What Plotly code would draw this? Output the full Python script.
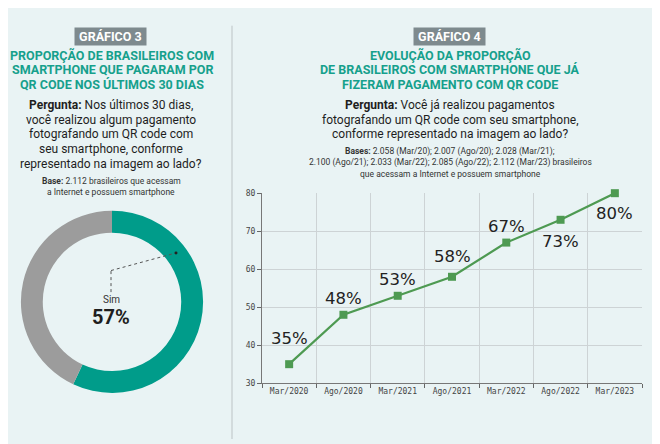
import plotly.graph_objects as go

# --- data ---
pie_labels = ['Sim', 'Não']
pie_values = [57, 43]

periods = ['Mar/2020', 'Ago/2020', 'Mar/2021', 'Ago/2021', 'Mar/2022', 'Ago/2022', 'Mar/2023']
share = [35, 48, 53, 58, 67, 73, 80]
y_ticks = [30, 40, 50, 60, 70, 80]

# label offset per point (px, positive = above)
label_shift = [26, 16, 16, 20, 16, -22, -20]

BG = '#E9F3F4'
TEAL = '#009C8A'
GRAY = '#9C9C9C'
TITLE_GREEN = '#16A08C'
LINE_GREEN = '#4E9A52'
# page body has an 8px margin, so the figure is a bit smaller than the window
OFF = 8
W, H = 660 - OFF, 444 - OFF


def px(x):
    return (x - OFF) / W


def py(y):
    return 1 - (y - OFF) / H


fig = go.Figure()

fig.add_trace(go.Pie(
    labels=pie_labels,
    values=pie_values,
    hole=0.76,
    sort=False,
    direction='clockwise',
    rotation=0,
    marker=dict(colors=[TEAL, GRAY], line=dict(width=0)),
    textinfo='none',
    showlegend=False,
    domain=dict(x=[px(19), px(205)], y=[py(397), py(211)]),
))

fig.add_trace(go.Scatter(
    x=periods,
    y=share,
    mode='lines+markers',
    line=dict(color=LINE_GREEN, width=2.2),
    marker=dict(symbol='square', size=8, color=LINE_GREEN),
    cliponaxis=False,
    showlegend=False,
    hoverinfo='skip',
))

annotations = []


def text(x, y, s, size, color='#1E1E1E', family='Roboto', **kw):
    annotations.append(dict(
        x=px(x), y=py(y), xref='paper', yref='paper', text=s, showarrow=False,
        xanchor='center', yanchor='middle',
        font=dict(size=size, color=color, family=family), **kw))


# left panel
text(110, 33, '<b>&nbsp;GRÁFICO 3&nbsp;</b>', 12.5, color='white', bgcolor='#7E8A8E', borderpad=1)
for y, s in zip([52, 67, 82], ['PROPORÇÃO DE BRASILEIROS COM',
                               'SMARTPHONE QUE PAGARAM POR',
                               'QR CODE NOS ÚLTIMOS 30 DIAS']):
    text(112, y, '<b>' + s + '</b>', 12.5, color=TITLE_GREEN)
for y, s in zip([103, 118, 133, 148, 163], ['<b>Pergunta:</b> Nos últimos 30 dias,',
                                            'você realizou algum pagamento',
                                            'fotografando um QR code com',
                                            'seu smartphone, conforme',
                                            'representado na imagem ao lado?']):
    text(111, y, s, 12)
text(111, 181, '<b>Base:</b> 2.112 brasileiros que acessam', 8.5, color='#333')
text(111, 192, 'a Internet e possuem smartphone', 8.5, color='#333')

text(111, 302, 'Sim', 10, color='#333')
text(111, 319, '<b>57%</b>', 20, color='#1E1E1E')

# right panel
text(449, 33, '<b>&nbsp;GRÁFICO 4&nbsp;</b>', 12.5, color='white', bgcolor='#7E8A8E', borderpad=1)
for y, s in zip([52, 67, 82], ['EVOLUÇÃO DA PROPORÇÃO',
                               'DE BRASILEIROS COM SMARTPHONE QUE JÁ',
                               'FIZERAM PAGAMENTO COM QR CODE']):
    text(450, y, '<b>' + s + '</b>', 12.5, color=TITLE_GREEN)
for y, s in zip([103, 118, 133], ['<b>Pergunta:</b> Você já realizou pagamentos',
                                  'fotografando um QR code com seu smartphone,',
                                  'conforme representado na imagem ao lado?']):
    text(450, y, s, 12)
for y, s in zip([150, 162, 173], ['<b>Bases:</b> 2.058 (Mar/20); 2.007 (Ago/20); 2.028 (Mar/21);',
                                  '2.100 (Ago/21); 2.033 (Mar/22); 2.085 (Ago/22); 2.112 (Mar/23) brasileiros',
                                  'que acessam a Internet e possuem smartphone']):
    text(450, y, s, 8.5, color='#333')

# point labels
for p, v, s in zip(periods, share, label_shift):
    annotations.append(dict(
        x=p, y=v, xref='x', yref='y', text=f'{v}%', showarrow=False,
        yshift=s, font=dict(size=16.5, color='#222', family='DejaVu Sans')))

shapes = [
    # panel separator
    dict(type='line', xref='paper', yref='paper', x0=px(232), x1=px(232), y0=py(22), y1=0,
         line=dict(color='#BCC3C5', width=1)),
    # dotted leader from centre label to ring
    dict(type='line', xref='paper', yref='paper', x0=px(111), x1=px(111), y0=py(294), y1=py(272),
         line=dict(color='#555', width=1, dash='dot')),
    dict(type='line', xref='paper', yref='paper', x0=px(111), x1=px(176), y0=py(272), y1=py(254),
         line=dict(color='#555', width=1, dash='dot')),
    dict(type='circle', xref='paper', yref='paper', x0=px(174.5), x1=px(177.5), y0=py(255.5), y1=py(252.5),
         fillcolor='#222', line=dict(width=0)),
]

fig.update_layout(
    width=W, height=H,
    margin=dict(l=0, r=0, t=0, b=0),
    paper_bgcolor=BG,
    plot_bgcolor=BG,
    annotations=annotations,
    shapes=shapes,
    xaxis=dict(
        domain=[px(262), px(642)],
        type='category',
        tickson='boundaries',
        ticks='outside', ticklen=4, tickcolor='#666',
        showline=True, linecolor='#777', linewidth=1,
        showgrid=True, gridcolor='#CDD3D5', gridwidth=1,
        tickfont=dict(size=8, color='#444', family='DejaVu Sans Mono'),
        range=[-0.5, 6.5],
        fixedrange=True,
    ),
    yaxis=dict(
        domain=[py(387), py(193)],
        range=[30, 80],
        tickvals=y_ticks,
        ticks='outside', ticklen=4, tickcolor='#666',
        showline=True, linecolor='#777', linewidth=1,
        showgrid=True, gridcolor='#CDD3D5', gridwidth=1,
        zeroline=False,
        tickfont=dict(size=8, color='#444', family='DejaVu Sans Mono'),
        fixedrange=True,
    ),
)

fig.write_html("out.html")
